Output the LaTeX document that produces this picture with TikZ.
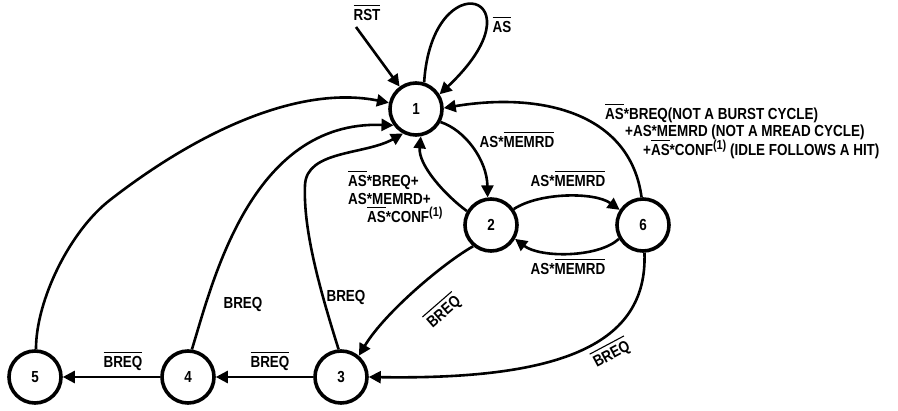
\documentclass[tikz,border=0pt]{standalone}
\usepackage{fontspec}
\newfontfamily\lf{Liberation Sans}[FakeStretch=0.84]
\usetikzlibrary{arrows.meta}
\newcommand\ovl[1]{\leavevmode\setbox0\hbox{#1}\rlap{\rule[14.8pt]{\wd0}{1.1pt}}\box0}
\newcommand\supone{\raisebox{6pt}{\fontsize{13}{13}\selectfont(1)}}
\begin{document}
\begin{tikzpicture}[x=1pt,y=-1pt,
  state/.style={circle,draw,line width=3.6pt,minimum size=52pt,inner sep=0pt,
    font=\lf\bfseries\fontsize{16}{16}\selectfont},
  lab/.style={font=\lf\bfseries\fontsize{16}{18}\selectfont,inner sep=0pt},
  conn/.style={line width=2.6pt,-{Triangle[length=12pt,width=12pt]}},
]
\fill[white] (0,0) rectangle (898,411);
\useasboundingbox (0,0) rectangle (898,411);

% states
\node[state] (n1) at (416,109) {1};
\node[state] (n2) at (491,225) {2};
\node[state] (n6) at (643,225) {6};
\node[state] (n3) at (341,377) {3};
\node[state] (n4) at (188,377) {4};
\node[state] (n5) at (35,377) {5};

% reset
\coordinate (rst) at (356,27);
\node[lab,anchor=base] (rstl) at (367,21) {\ovl{RST}};
\draw[conn] (rst) -- (n1);

% self loop
\draw[conn] (n1.73) .. controls (432,-40) and (545,-5) .. (n1.32);
\node[lab,anchor=base] (asl) at (502,33) {\ovl{AS}};

% 1 -> 2
\draw[conn] (n1.-28) .. controls (465,130) and (487,160) .. (n2.97);
\node[lab,anchor=base] (l12) at (517,148) {AS*\ovl{MEMRD}};

% 2 -> 1
\draw[conn] (n2.150) .. controls (445,195) and (418,165) .. (n1.-80);
\node[lab,anchor=base west] (l21a) at (348,187) {\ovl{AS}*BREQ+};
\node[lab,anchor=base west] (l21b) at (348,205) {AS*MEMRD+};
\node[lab,anchor=base west] (l21c) at (367,223) {\ovl{AS}*CONF\supone};

% 2 <-> 6
\draw[conn] (n2.35) .. controls (540,192) and (595,192) .. (n6.147);
\node[lab,anchor=base] (l26) at (568,187) {AS*\ovl{MEMRD}};
\draw[conn] (n6.-150) .. controls (598,258) and (540,258) .. (n2.-30);
\node[lab,anchor=base] (l62) at (568,275) {AS*\ovl{MEMRD}};

% 6 -> 1
\draw[conn] (n6.93) .. controls (630,112) and (540,92) .. (n1.2);
\node[lab,anchor=base west] (l61a) at (605,120) {\ovl{AS}*BREQ(NOT A BURST CYCLE)};
\node[lab,anchor=base west] (l61b) at (625,137) {+AS*MEMRD (NOT A MREAD CYCLE)};
\node[lab,anchor=base west] (l61c) at (643,156) {+\ovl{AS}*CONF\supone{} (IDLE FOLLOWS A HIT)};

% 2 -> 3
\draw[conn] (n2.-130) .. controls (445,262) and (385,312) .. (n3.50);
\node[lab,rotate=41] (l23) at (443,311) {\ovl{BREQ}};

% 6 -> 3
\draw[conn] (n6.-87) .. controls (648,345) and (560,380) .. (n3.east);
\node[lab,rotate=28] (l63) at (611,353) {\ovl{BREQ}};

% 3 -> 1
\draw[conn] (n3.95) .. controls (320,290) and (303,230) .. (305,185)
  .. controls (306.5,150) and (365,155) .. (n1.-118);
\node[lab,anchor=base] (l31) at (346,302) {BREQ};

% 4 -> 1
\draw[conn] (n4.82) .. controls (212,285) and (250,120) .. (n1.-144);
\node[lab,anchor=base] (l41) at (243,309) {BREQ};

% 5 -> 1
\draw[conn] (n5.88) .. controls (36,300) and (70,231) .. (110,200)
  .. controls (200,130) and (300,85) .. (n1.167);

% 3 -> 4 -> 5
\draw[conn] (n3) -- (n4);
\node[lab,anchor=base] (l34) at (270,368) {\ovl{BREQ}};
\draw[conn] (n4) -- (n5);
\node[lab,anchor=base] (l45) at (123,368) {\ovl{BREQ}};
\end{tikzpicture}
\end{document}
